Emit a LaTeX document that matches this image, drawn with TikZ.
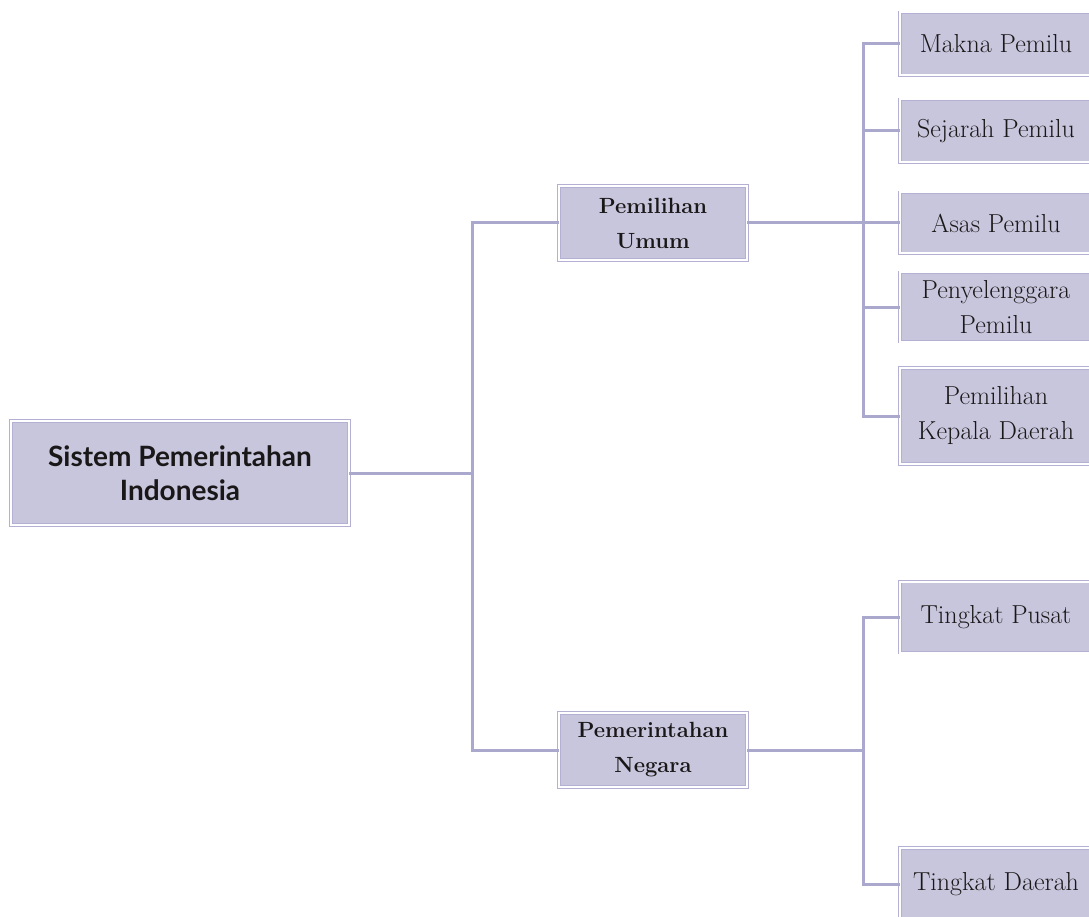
\documentclass[tikz,border=0pt]{standalone}
\usepackage{fontspec}
\usepackage{tikz}
\usetikzlibrary{positioning,calc}
\newfontfamily\rootfont{Lato}
\definecolor{boxfill}{HTML}{C8C6DD}
\definecolor{boxedge}{HTML}{B3B0D3}
\definecolor{linkcol}{HTML}{ABA8CD}
\definecolor{inkcol}{HTML}{1A1718}

\begin{document}
\begin{tikzpicture}[
    x=1pt, y=-1pt,
    topicbox/.style={rectangle, draw=boxedge, double=white, double distance=2pt, line width=0.8pt,
        fill=boxfill, text=inkcol, align=center, inner sep=0pt},
    rootbox/.style={topicbox, minimum width=338pt, minimum height=104pt,
        font=\rootfont\bfseries\fontsize{28}{34}\selectfont},
    midbox/.style={topicbox, minimum width=188pt, minimum height=74pt,
        font=\bfseries\fontsize{22}{35}\selectfont},
    leafbox/.style={topicbox, minimum width=192pt, font=\fontsize{26}{35}\selectfont},
    conn/.style={draw=linkcol, line width=3pt}
]
\useasboundingbox (0,0) rectangle (1089,917);

% Root
\node[rootbox] (root) at (180,473) {Sistem Pemerintahan\\Indonesia};

% Second level
\node[midbox] (pemilu) at (653,223) {Pemilihan\\Umum};
\node[midbox] (negara) at (653,750) {Pemerintahan\\Negara};

% Leaves of Pemilihan Umum
\node[leafbox, minimum height=63pt] (makna) at (996,44) {Makna Pemilu};
\node[leafbox, minimum height=63pt] (sejarah) at (996,131) {Sejarah Pemilu};
\node[leafbox, minimum height=61pt] (asas) at (996,223) {Asas Pemilu};
\node[leafbox, minimum height=69pt] (penyel) at (996,307) {Penyelenggara\\Pemilu};
\node[leafbox, minimum height=96pt] (pilkada) at (996,416) {Pemilihan\\Kepala Daerah};

% Leaves of Pemerintahan Negara
\node[leafbox, minimum height=71pt] (pusat) at (996,617) {Tingkat Pusat};
\node[leafbox, minimum height=72pt] (daerah) at (996,884) {Tingkat Daerah};

% Junctions
\coordinate (jroot) at (472,473);
\coordinate (jpemilu) at (863,223);
\coordinate (jnegara) at (863,750);

% Connectors
\draw[conn] (root.east) -- (jroot);
\draw[conn] (jroot) |- (pemilu.west);
\draw[conn] (jroot) |- (negara.west);

\draw[conn] (pemilu.east) -- (jpemilu);
\foreach \leaf in {makna,sejarah,asas,penyel,pilkada}
    \draw[conn] (jpemilu) |- (\leaf.west);

\draw[conn] (negara.east) -- (jnegara);
\foreach \leaf in {pusat,daerah}
    \draw[conn] (jnegara) |- (\leaf.west);

\end{tikzpicture}
\end{document}
